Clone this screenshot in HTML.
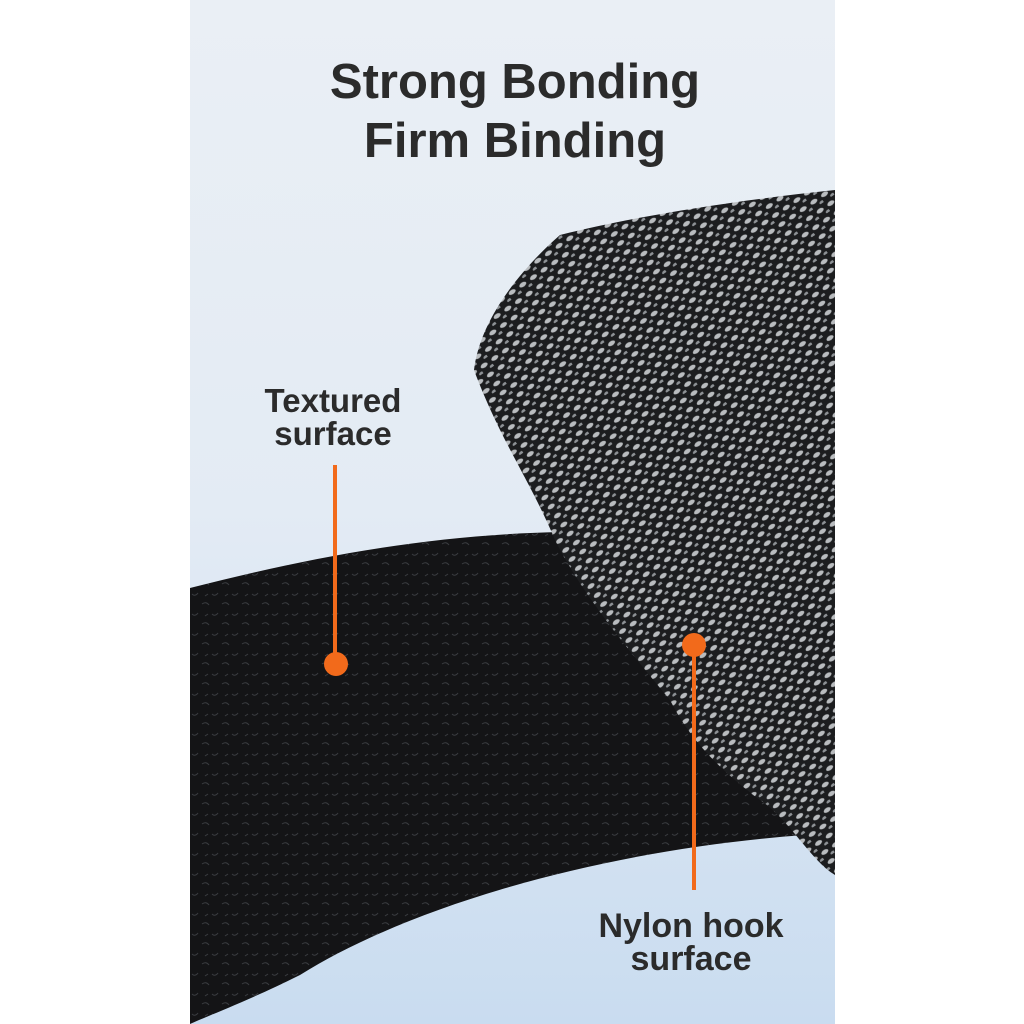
<!DOCTYPE html>
<html><head><meta charset="utf-8"><style>
html,body{margin:0;padding:0;background:#fff;}
body{width:1024px;height:1024px;position:relative;overflow:hidden;font-family:"Liberation Sans",sans-serif;}
svg{position:absolute;left:0;top:0;}
</style></head><body>
<svg width="1024" height="1024" viewBox="0 0 1024 1024">
<defs>
<linearGradient id="bg" x1="0" y1="0" x2="0" y2="1">
<stop offset="0" stop-color="#eaeff5"/><stop offset="0.5" stop-color="#e3ebf4"/><stop offset="1" stop-color="#c9dcf0"/>
</linearGradient>
<pattern id="hook" width="13" height="11" patternUnits="userSpaceOnUse" patternTransform="rotate(-35)">
<rect width="13" height="11" fill="#1c1d1f"/>
<ellipse cx="5" cy="5" rx="4" ry="2.2" fill="#b9bcbf"/>
<ellipse cx="11.5" cy="10" rx="3" ry="1.6" fill="#8d9195"/>
</pattern>
<pattern id="loop" width="20" height="20" patternUnits="userSpaceOnUse">
<rect width="20" height="20" fill="#141416"/>
<path d="M2 4 q4 -3 7 1 M12 14 q3 3 6 -1 M5 16 l3 -2" stroke="#3a3c40" stroke-width="1" fill="none"/>
</pattern>
</defs>
<rect x="190" y="0" width="645" height="1024" fill="url(#bg)"/>
<path d="M190 588 C300 560 420 535 560 532 L800 700 L805 835 C620 848 420 900 300 975 C250 1000 210 1015 190 1024 Z" fill="url(#loop)"/>
<path d="M474 370 C480 320 520 270 560 235 C640 215 740 200 835 190 L835 875 C810 860 790 820 760 800 C720 770 690 740 670 700 C620 640 580 590 555 540 C530 480 500 440 474 370 Z" fill="url(#hook)"/>
<text x="515" y="98" text-anchor="middle" font-size="49" font-weight="bold" fill="#2b2b2b">Strong Bonding</text>
<text x="515" y="157" text-anchor="middle" font-size="49" font-weight="bold" fill="#2b2b2b">Firm Binding</text>
<text x="333" y="412" text-anchor="middle" font-size="33" font-weight="bold" fill="#2b2b2b">Textured</text>
<text x="333" y="445" text-anchor="middle" font-size="33" font-weight="bold" fill="#2b2b2b">surface</text>
<rect x="333" y="465" width="4" height="190" fill="#f26a1b"/>
<circle cx="336" cy="664" r="12" fill="#f26a1b"/>
<rect x="692" y="650" width="4" height="240" fill="#f26a1b"/>
<circle cx="694" cy="645" r="12" fill="#f26a1b"/>
<text x="691" y="937" text-anchor="middle" font-size="34" font-weight="bold" fill="#2b2b2b">Nylon hook</text>
<text x="691" y="970" text-anchor="middle" font-size="34" font-weight="bold" fill="#2b2b2b">surface</text>
</svg>
</body></html>
